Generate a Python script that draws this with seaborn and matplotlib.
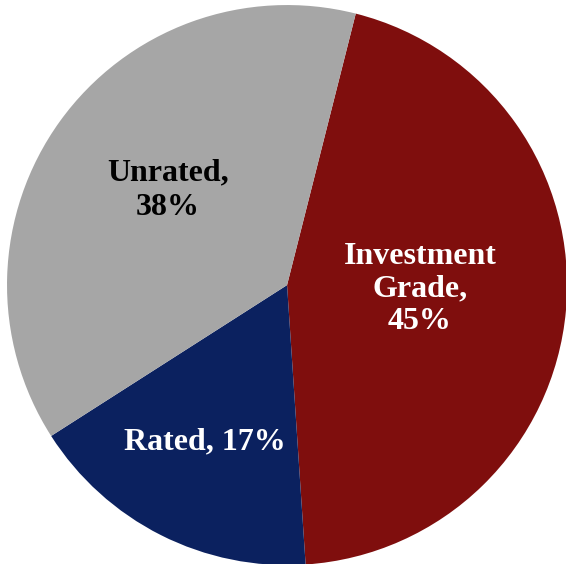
import numpy as np
import matplotlib
matplotlib.use("Agg")
import matplotlib.pyplot as plt
import seaborn as sns

sns.set_theme(style="white")
plt.rcParams["font.family"] = ["Liberation Serif", "DejaVu Serif"]

categories = ["Investment\nGrade", "Rated", "Unrated"]
shares = [45, 17, 38]
label_templates = ["{cat},\n{v}%", "{cat}, {v}%", "{cat},\n{v}%"]
colors = ["#7F0E0D", "#0B215F", "#A6A6A6"]
text_colors = ["white", "white", "black"]
# radial placement of each label (fraction of radius) and angular nudge in degrees
label_radius = [0.475, 0.633, 0.544]
label_nudge = [3.6, -0.8, -2.8]
label_linespacing = [1.15, 1.0, 1.25]

fig = plt.figure(figsize=(5.66, 5.64), dpi=100)
ax = fig.add_axes([0, 0, 1, 1])
wedges, _ = ax.pie(shares, colors=colors, startangle=75.8, counterclock=False,
                   radius=1.0, wedgeprops=dict(linewidth=0))

for w, cat, v, tmpl, tc, r, nd, ls in zip(wedges, categories, shares, label_templates,
                                           text_colors, label_radius, label_nudge,
                                           label_linespacing):
    mid = np.deg2rad((w.theta1 + w.theta2) / 2 + nd)
    ax.text(r * np.cos(mid), r * np.sin(mid), tmpl.format(cat=cat, v=v),
            ha="center", va="center", color=tc, fontsize=23, fontweight="bold",
            linespacing=ls)

ax.set_xlim(-1.025, 0.996)
ax.set_ylim(-0.996, 1.018)
ax.set_aspect("equal")
ax.axis("off")
fig.savefig("out.png", dpi=100, facecolor="white")
